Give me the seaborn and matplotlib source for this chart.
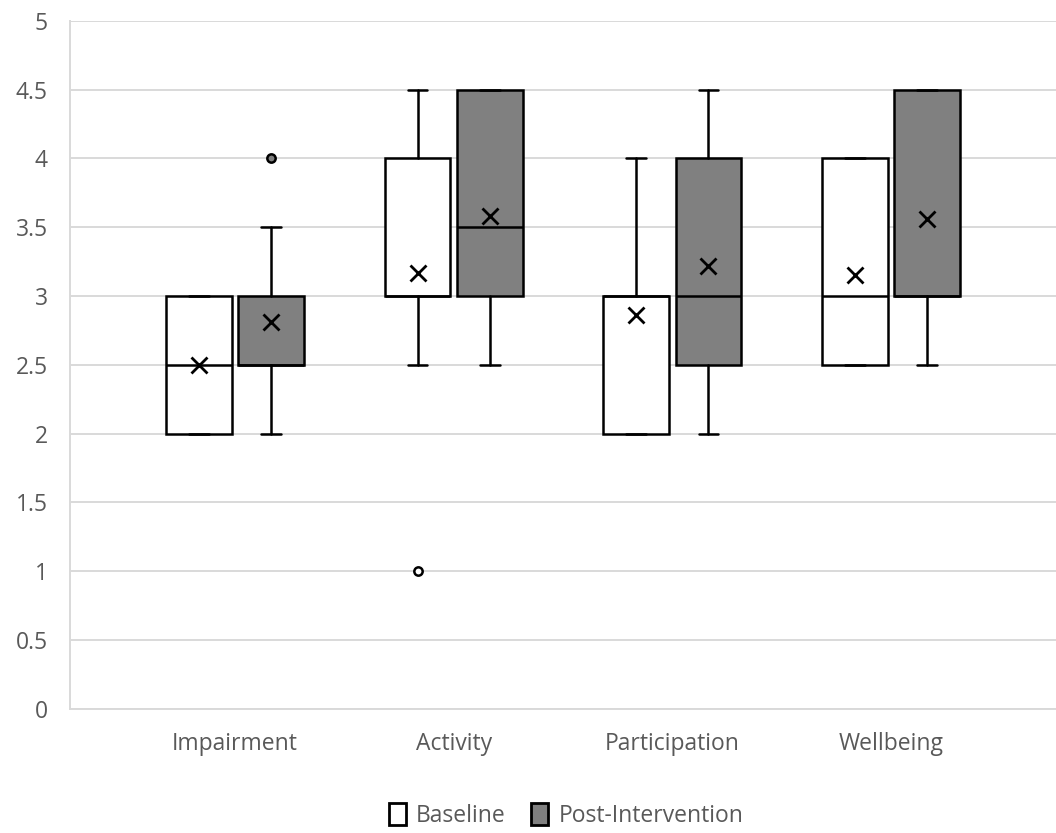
import numpy as np
import seaborn as sns
import matplotlib.pyplot as plt
from matplotlib.patches import Patch

# 박스 플롯 요약 통계
categories = ["Impairment", "Activity", "Participation", "Wellbeing"]
series = ["Baseline", "Post-Intervention"]

base_q1 = [2.0, 3.0, 2.0, 2.5]
base_med = [2.5, 3.0, 3.0, 3.0]
base_q3 = [3.0, 4.0, 3.0, 4.0]
base_lo = [2.0, 2.5, 2.0, 2.5]
base_hi = [3.0, 4.5, 4.0, 4.0]
base_mean = [2.50, 3.17, 2.86, 3.15]
base_out = [[], [1.0], [], []]

post_q1 = [2.5, 3.0, 2.5, 3.0]
post_med = [2.5, 3.5, 3.0, 3.0]
post_q3 = [3.0, 4.5, 4.0, 4.5]
post_lo = [2.0, 2.5, 2.0, 2.5]
post_hi = [3.5, 4.5, 4.5, 4.5]
post_mean = [2.81, 3.58, 3.22, 3.56]
post_out = [[4.0], [], [], []]

sns.set_theme(style="white")
plt.rcParams['font.family'] = ['Open Sans', 'DejaVu Sans']

fig, ax = plt.subplots(figsize=(10.56, 8.33), dpi=100)
fig.subplots_adjust(left=0.0663, right=1.0, bottom=0.149, top=0.975)


def make_stats(q1, med, q3, lo, hi, mean, out):
    return [dict(q1=a, med=b, q3=c, whislo=d, whishi=e, mean=f, fliers=np.array(g))
            for a, b, c, d, e, f, g in zip(q1, med, q3, lo, hi, mean, out)]


groups = [
    (make_stats(base_q1, base_med, base_q3, base_lo, base_hi, base_mean, base_out), -0.165, "white"),
    (make_stats(post_q1, post_med, post_q3, post_lo, post_hi, post_mean, post_out), 0.165, "#808080"),
]

lw = 1.8
x = np.arange(len(categories))
for stats, offset, fc in groups:
    ax.bxp(stats, positions=x + offset, widths=0.30, capwidths=0.09,
           showmeans=True, patch_artist=True, manage_ticks=False,
           boxprops=dict(facecolor=fc, edgecolor="black", linewidth=lw),
           medianprops=dict(color="black", linewidth=lw),
           whiskerprops=dict(color="black", linewidth=lw),
           capprops=dict(color="black", linewidth=lw),
           meanprops=dict(marker="x", markeredgecolor="black", markersize=11, markeredgewidth=2),
           flierprops=dict(marker="o", markerfacecolor=fc, markeredgecolor="black",
                           markersize=6, markeredgewidth=1.8))

# 축 설정
ax.set_xlim(-0.754, 3.754)
ax.set_ylim(0, 5)
ax.set_yticks(np.arange(0, 5.01, 0.5))
ax.set_yticklabels(["0", "0.5", "1", "1.5", "2", "2.5", "3", "3.5", "4", "4.5", "5"])
ax.set_xticks(x)
ax.set_xticklabels(categories)
ax.set_axisbelow(True)
ax.yaxis.grid(True, color="#d9d9d9", linewidth=1.4)
ax.xaxis.grid(False)
for side in ["top", "right"]:
    ax.spines[side].set_visible(False)
for side in ["left", "bottom"]:
    ax.spines[side].set_color("#d9d9d9")
    ax.spines[side].set_linewidth(1.4)
ax.tick_params(axis="y", length=0, pad=16, labelsize=16.5, labelcolor="#595959")
ax.tick_params(axis="x", length=0, pad=17, labelsize=16.5, labelcolor="#595959")

# 범례
handles = [Patch(facecolor="white", edgecolor="black", linewidth=2),
           Patch(facecolor="#808080", edgecolor="black", linewidth=2)]
fig.legend(handles, series, loc="center", bbox_to_anchor=(0.536, 0.021), ncol=2,
           frameon=False, handlelength=0.75, handleheight=1.1, handletextpad=0.45,
           columnspacing=1.1, fontsize=16.5, labelcolor="#595959")

plt.savefig("out.png", dpi=100)
